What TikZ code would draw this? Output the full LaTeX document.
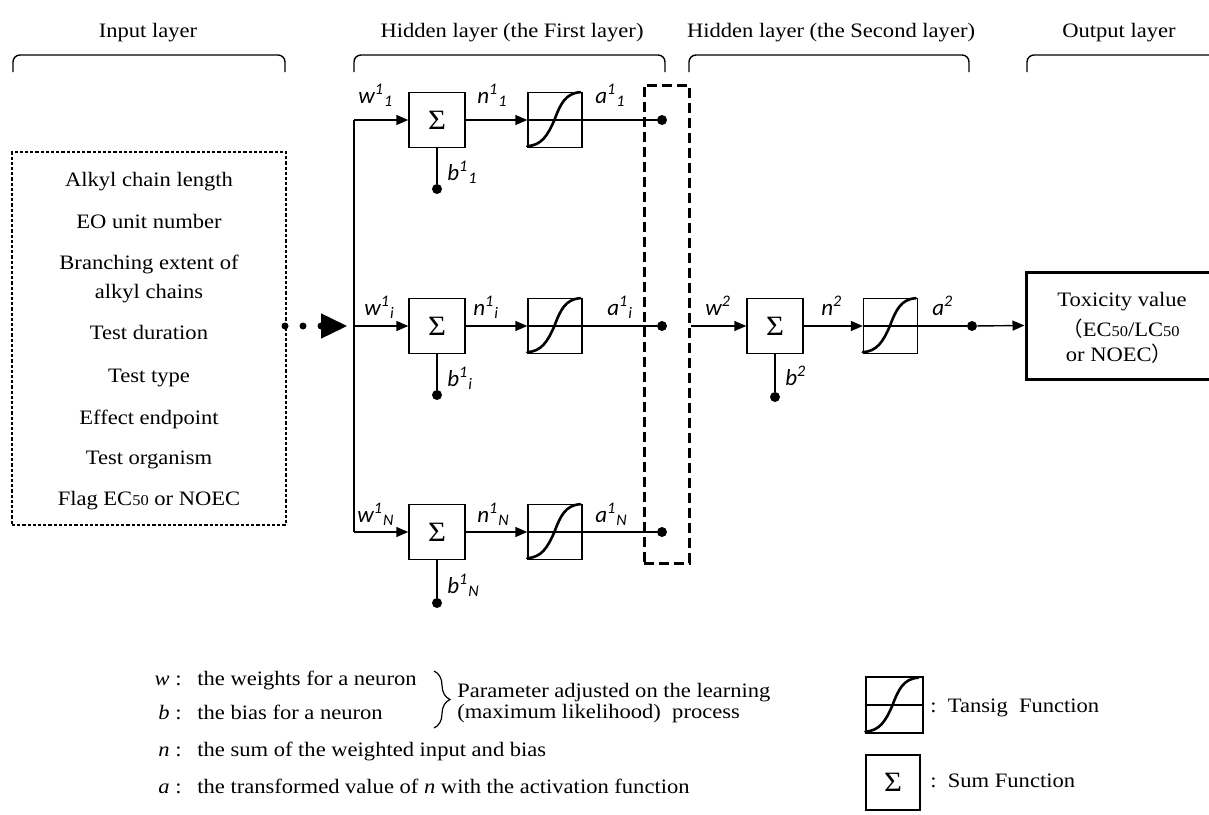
\documentclass[tikz,border=0pt]{standalone}
\usepackage{fontspec}
\setmainfont{Liberation Serif}[FakeStretch=1.1]
\newfontfamily\labfont{Carlito}
\newfontfamily\cjkfont{Noto Sans CJK JP}
\usetikzlibrary{arrows.meta,decorations.pathreplacing,calc}
\tikzset{
  x=0.5pt, y=-0.5pt,
  every node/.style={font=\fontsize{10.25}{12}\selectfont},
  conn/.style={line width=0.7pt},
  arr/.style={line width=0.7pt, -{Triangle[length=6pt,width=5pt]}},
  sumbox/.style={draw, line width=0.7pt, minimum width=28pt, minimum height=27.5pt, inner sep=0pt, font=\fontsize{14}{14}\selectfont},
  tanbox/.style={draw, line width=0.7pt, minimum width=27pt, minimum height=27.5pt, inner sep=0pt},
  dotn/.style={circle, fill, inner sep=0pt, minimum size=5pt},
  smalldot/.style={circle, fill, inner sep=0pt, minimum size=3.5pt},
  lab/.style={anchor=base west, inner sep=0pt, font=\fontsize{11.5}{11.5}\selectfont\labfont\itshape},
  txt/.style={anchor=base, inner sep=0pt},
  ltxt/.style={anchor=base west, inner sep=0pt},
  rtxt/.style={anchor=base east, inner sep=0pt},
  bracket/.style={line width=0.7pt, rounded corners=3.5pt},
}
\newcommand\sigcurve[1]{%
  \draw[conn] (#1.west) -- (#1.east);
  \draw[line width=1.3pt, line cap=round]
    ([shift={(0,-2)}]#1.south west) .. controls ([shift={(14,-3)}]#1.south west) and ([shift={(20,-12)}]#1.south west) ..
    ([shift={(27,-28)}]#1.south west) .. controls ([shift={(33,-44)}]#1.south west) and ([shift={(38,-55)}]#1.south west) ..
    ([shift={(53,-56)}]#1.south west);}
\newcommand\sm[1]{{\fontsize{7.5}{9}\selectfont #1}}
\begin{document}
\begin{tikzpicture}
\useasboundingbox (0,0) rectangle (1209,814);

% headings
\node[txt] (h1) at (148,37) {Input layer};
\node[txt] (h2) at (512,37) {Hidden layer (the First layer)};
\node[txt] (h3) at (831,37) {Hidden layer (the Second layer)};
\node[txt] (h4) at (1119,37) {Output layer};
\draw[bracket] (13,72) -- (13,55) -- (285,55) -- (285,72);
\draw[bracket] (354,72) -- (354,55) -- (665,55) -- (665,72);
\draw[bracket] (689,72) -- (689,55) -- (969,55) -- (969,72);
\draw[bracket] (1027,72) -- (1027,55) -- (1240,55) -- (1240,72);

% input box
\node[draw, line width=0.6pt, dash pattern=on 1.6pt off 1pt, minimum width=137pt, minimum height=186.5pt, inner sep=0pt] (ib) at (149,338.5) {};
\node[txt] (i1) at (149,186) {Alkyl chain length};
\node[txt] (i2) at (149,228) {EO unit number};
\node[txt] (i3) at (149,269) {Branching extent of};
\node[txt] (i4) at (149,298) {alkyl chains};
\node[txt] (i5) at (149,339) {Test duration};
\node[txt] (i6) at (149,382) {Test type};
\node[txt] (i7) at (149,424) {Effect endpoint};
\node[txt] (i8) at (149,464) {Test organism};
\node[txt] (i9) at (149,505) {Flag EC\sm{50} or NOEC};

% input dots and arrow
\node[smalldot] (p1) at (285,326) {};
\node[smalldot] (p2) at (303,326) {};
\node[smalldot] (p3) at (321,326) {};
\coordinate (ptip) at (347,326);
\draw[-{Triangle[length=13pt,width=12.5pt]}, line width=0.7pt] (p3.center) -- (ptip);

% split line
\coordinate (vt) at (354,120);
\coordinate (vm) at (354,326);
\coordinate (vb) at (354,532);
\draw[conn] (vt) -- (vb);

% first hidden layer
\foreach \r/\y/\yd in {1/120/189, 2/326/395, 3/532/603} {
  \node[sumbox] (s\r) at (437,\y) {Σ};
  \node[tanbox] (t\r) at (555,\y) {};
  \node[dotn] (d\r) at (662,\y) {};
  \node[dotn] (b\r) at (437,\yd) {};
}
\sigcurve{t1}\sigcurve{t2}\sigcurve{t3}
\draw[arr] (vt) -- (s1.west);
\draw[arr] (vm) -- (s2.west);
\draw[arr] (vb) -- (s3.west);
\foreach \r in {1,2,3} {
  \draw[arr] (s\r.east) -- (t\r.west);
  \draw[conn] (t\r.east) -- (d\r);
  \draw[conn] (s\r.south) -- (b\r);
}

% labels first layer
\node[lab] (lw1) at (358,103) {w\textsuperscript{1}\textsubscript{1}};
\node[lab] (ln1) at (477,103) {n\textsuperscript{1}\textsubscript{1}};
\node[lab] (la1) at (595,103) {a\textsuperscript{1}\textsubscript{1}};
\node[lab] (lb1) at (447,180) {b\textsuperscript{1}\textsubscript{1}};
\node[lab] (lw2) at (364,315) {w\textsuperscript{1}\textsubscript{i}};
\node[lab] (ln2) at (473,315) {n\textsuperscript{1}\textsubscript{i}};
\node[lab] (la2) at (607,315) {a\textsuperscript{1}\textsubscript{i}};
\node[lab] (lb2) at (447,386) {b\textsuperscript{1}\textsubscript{i}};
\node[lab] (lw3) at (357,522) {w\textsuperscript{1}\textsubscript{N}};
\node[lab] (ln3) at (477,522) {n\textsuperscript{1}\textsubscript{N}};
\node[lab] (la3) at (595,522) {a\textsuperscript{1}\textsubscript{N}};
\node[lab] (lb3) at (447,593) {b\textsuperscript{1}\textsubscript{N}};

% dashed collector
\node[draw, line width=1.5pt, dash pattern=on 5pt off 2.5pt, minimum width=22.5pt, minimum height=239pt, inner sep=0pt] (hl) at (666.5,324) {};

% second hidden layer
\node[sumbox] (s4) at (775,326) {Σ};
\node[tanbox] (t4) at (890.5,326) {};
\sigcurve{t4}
\node[dotn] (b4) at (775,397) {};
\node[dotn] (dout) at (972,326) {};
\draw[arr] (hl.east |- s4.west) -- (s4.west);
\draw[arr] (s4.east) -- (t4.west);
\draw[conn] (t4.east) -- (dout);
\draw[conn] (s4.south) -- (b4);
\node[lab] (lw4) at (705,315) {w\textsuperscript{2}};
\node[lab] (ln4) at (821,315) {n\textsuperscript{2}};
\node[lab] (la4) at (932,315) {a\textsuperscript{2}};
\node[lab] (lb4) at (785,385) {b\textsuperscript{2}};

% output
\node[draw, line width=1.5pt, minimum width=96pt, minimum height=53.5pt, inner sep=0pt] (out) at (1122,325.5) {};
\draw[arr] (dout) -- (out.west);
\node[txt] (o1) at (1122,306.5) {Toxicity value};
\node[txt] (o2) at (1121,336.5) {{\cjkfont （}EC\sm{50}/LC\sm{50}};
\node[txt] (o3) at (1119,361.5) {or NOEC{\cjkfont ）}};

% legend
\node[rtxt] (kw) at (182,685) {\textit{w} :};
\node[rtxt] (kb) at (182,719) {\textit{b} :};
\node[rtxt] (kn) at (182,756) {\textit{n} :};
\node[rtxt] (ka) at (182,793) {\textit{a} :};
\node[ltxt] (tw) at (197,685) {the weights for a neuron};
\node[ltxt] (tb) at (197,719) {the bias for a neuron};
\node[ltxt] (tn) at (197,756) {the sum of the weighted input and bias};
\node[ltxt] (ta) at (197,793) {the transformed value of \textit{n} with the activation function};
\draw[line width=0.6pt, decorate, decoration={brace, amplitude=8pt}] (434,671) -- (434,728);
\node[ltxt] (pa1) at (457,697) {Parameter adjusted on the learning};
\node[ltxt] (pa2) at (457,718) {(maximum likelihood)\ \ process};

\node[tanbox, minimum width=28.5pt, minimum height=28pt] (lt) at (894.5,705) {};
\sigcurve{lt}
\node[ltxt] (ltc) at (930,712) {:\ \ Tansig\ \ Function};
\node[sumbox, minimum width=27pt] (ls) at (893,782.5) {Σ};
\node[ltxt] (lsc) at (930,787) {:\ \ Sum Function};
\end{tikzpicture}
\end{document}
